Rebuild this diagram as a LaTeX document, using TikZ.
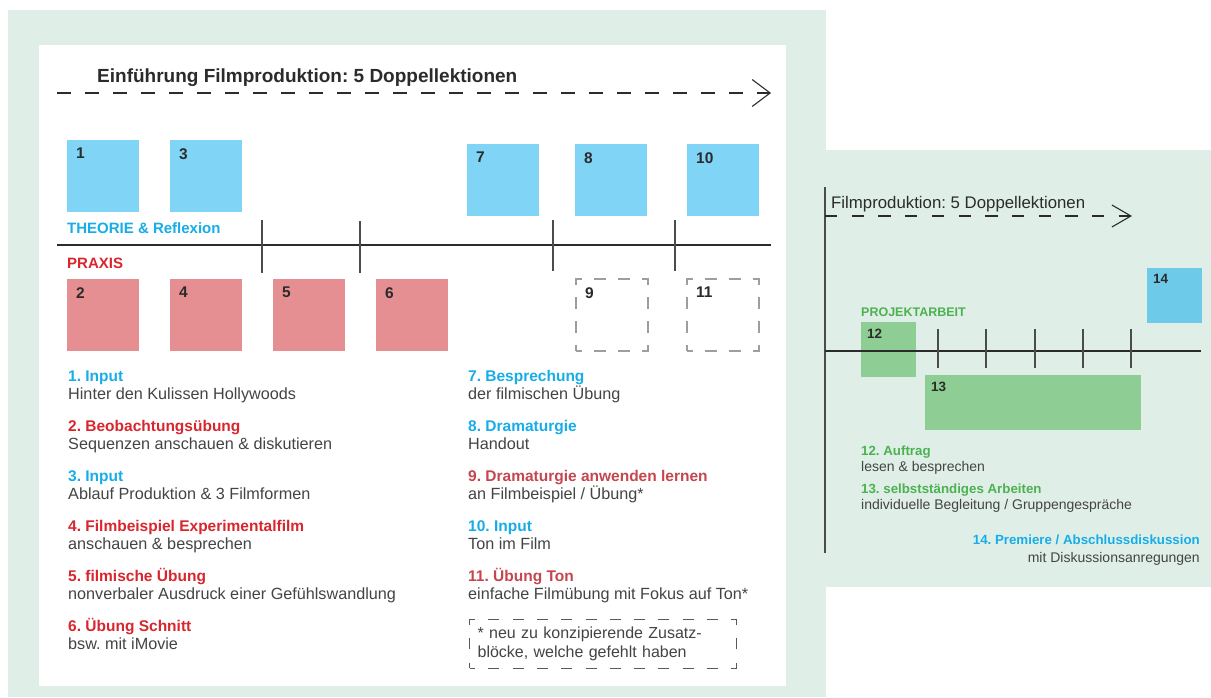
\documentclass[tikz,border=0pt]{standalone}
\usepackage{fontspec}
\setmainfont{Liberation Sans}
\usetikzlibrary{arrows.meta}
\frenchspacing
\definecolor{panel}{HTML}{DFEFE7}
\definecolor{theoblue}{HTML}{80D5F6}
\definecolor{premblue}{HTML}{6DCBE9}
\definecolor{praxred}{HTML}{E68F93}
\definecolor{projgreen}{HTML}{8ECE95}
\definecolor{txtblue}{HTML}{17ADE8}
\definecolor{txtred}{HTML}{D9262E}
\definecolor{txtrose}{HTML}{C4474F}
\definecolor{txtgreen}{HTML}{4DB151}
\definecolor{ink}{HTML}{2B2B2B}
\definecolor{subink}{HTML}{444444}

\tikzset{
    num/.style={font=\bfseries\fontsize{15.5}{16}\selectfont, text=ink, inner sep=0pt,
        anchor=north west, xshift=9pt, yshift=-8pt},
    snum/.style={font=\bfseries\fontsize{13.5}{14}\selectfont, text=ink, inner sep=0pt,
        anchor=north west, xshift=6pt, yshift=-6.5pt},
    block/.style={inner sep=0pt, outer sep=0pt, minimum size=72pt, anchor=north west},
    theo/.style={block, fill=theoblue},
    prax/.style={block, fill=praxred},
    extra/.style={block, draw=black!38, line width=2pt, dash pattern=on 12pt off 12pt, dash phase=6pt},
    proj/.style={inner sep=0pt, outer sep=0pt, minimum size=55pt, anchor=north west, fill=projgreen},
    head/.style={font=\bfseries\fontsize{15.5}{18}\selectfont, anchor=base west, inner sep=0pt},
    desc/.style={font=\fontsize{16.2}{19}\selectfont, text=subink, anchor=base west, inner sep=0pt},
    shead/.style={font=\bfseries\fontsize{13.3}{15}\selectfont, anchor=base west, inner sep=0pt},
    sdesc/.style={font=\fontsize{14}{16}\selectfont, text=subink, anchor=base west, inner sep=0pt},
    tick/.style={draw=black!70, line width=1.2pt},
    flow/.style={draw=ink, line width=1.1pt}
}

\begin{document}
\begin{tikzpicture}[x=1pt,y=-1pt]
    \useasboundingbox (0,0) rectangle (1211,697);
    \fill[white] (0,0) rectangle (1211,697);
    % panels
    \fill[panel] (8,10) rectangle (826,697);
    \fill[panel] (824,150) rectangle (1211,587);
    \fill[white] (39,45) rectangle (786,686);

    % Einfuehrung
    \node (title) at (97,82) [anchor=base west, inner sep=0pt, text=ink,
        font=\bfseries\fontsize{19}{21}\selectfont] {Einführung Filmproduktion: 5 Doppellektionen};
    \coordinate (a0) at (57,93);
    \coordinate (a1) at (771,93);
    \draw[flow, dash pattern=on 13.5pt off 14.5pt, -{Straight Barb[length=18pt,width=27pt]}] (a0) -- (a1);

    \node (s1) at (67,140) [theo, label={[num]north west:1}] {};
    \node (s3) at (170,140) [theo, label={[num]north west:3}] {};
    \node (s7) at (467,144) [theo, label={[num]north west:7}] {};
    \node (s8) at (575,144) [theo, label={[num]north west:8}] {};
    \node (s10) at (687,144) [theo, label={[num]north west:10}] {};

    \node (theorie) at (67,233) [head, font=\bfseries\fontsize{15}{18}\selectfont, text=txtblue] {THEORIE \& Reflexion};
    \node (praxis) at (67,268) [head, font=\bfseries\fontsize{15}{18}\selectfont, text=txtred] {PRAXIS};

    \coordinate (t0) at (57,245);
    \coordinate (t1) at (771,245);
    \draw[ink, line width=1.1pt] (t0) -- (t1);
    \draw[tick] (262,220) -- (262,273);
    \draw[tick] (360,221) -- (360,273);
    \draw[tick] (553,220) -- (553,271);
    \draw[tick] (675,220) -- (675,271);

    \node (s2) at (67,279) [prax, label={[num]north west:2}] {};
    \node (s4) at (170,279) [prax, label={[num]north west:4}] {};
    \node (s5) at (273,279) [prax, label={[num]north west:5}] {};
    \node (s6) at (376,279) [prax, label={[num]north west:6}] {};
    \node (s9) at (576,279) [extra, label={[num]north west:9}] {};
    \node (s11) at (687,279) [extra, label={[num]north west:11}] {};

    % Legende links
    \node (h1) at (68,381) [head, text=txtblue] {1. Input};
    \node (d1) at (68,399) [desc] {Hinter den Kulissen Hollywoods};
    \node (h2) at (68,431) [head, text=txtred] {2. Beobachtungsübung};
    \node (d2) at (68,449) [desc] {Sequenzen anschauen \& diskutieren};
    \node (h3) at (68,481) [head, text=txtblue] {3. Input};
    \node (d3) at (68,499) [desc] {Ablauf Produktion \& 3 Filmformen};
    \node (h4) at (68,531) [head, text=txtred] {4. Filmbeispiel Experimentalfilm};
    \node (d4) at (68,549) [desc] {anschauen \& besprechen};
    \node (h5) at (68,581) [head, text=txtred] {5. filmische Übung};
    \node (d5) at (68,599) [desc] {nonverbaler Ausdruck einer Gefühlswandlung};
    \node (h6) at (68,631) [head, text=txtred] {6. Übung Schnitt};
    \node (d6) at (68,649) [desc] {bsw. mit iMovie};

    \node (h7) at (468,381) [head, text=txtblue] {7. Besprechung};
    \node (d7) at (468,399) [desc] {der filmischen Übung};
    \node (h8) at (468,431) [head, text=txtblue] {8. Dramaturgie};
    \node (d8) at (468,449) [desc] {Handout};
    \node (h9) at (468,481) [head, text=txtrose] {9. Dramaturgie anwenden lernen};
    \node (d9) at (468,499) [desc] {an Filmbeispiel / Übung*};
    \node (h10) at (468,531) [head, text=txtblue] {10. Input};
    \node (d10) at (468,549) [desc] {Ton im Film};
    \node (h11) at (468,581) [head, text=txtrose] {11. Übung Ton};
    \node (d11) at (468,599) [desc] {einfache Filmübung mit Fokus auf Ton*};

    \node (note) at (469,619) [anchor=north west, draw=black!65, line width=1.3pt,
        dash pattern=on 11pt off 13.27pt, dash phase=5.5pt, minimum width=267pt, minimum height=48.5pt,
        inner xsep=8pt, inner ysep=0pt, text width=251pt, align=left, text=subink,
        font=\fontsize{16}{19}\selectfont] {* neu zu konzipierende Zusatz-\\blöcke, welche gefehlt haben};

    % Filmproduktion
    \coordinate (v0) at (825,187);
    \coordinate (v1) at (825,553);
    \draw[black!70, line width=1.5pt] (v0) -- (v1);
    \node (title2) at (831,208) [anchor=base west, inner sep=0pt, text=ink,
        font=\fontsize{16.8}{18}\selectfont] {Filmproduktion: 5 Doppellektionen};
    \coordinate (b0) at (825,216);
    \coordinate (b1) at (1132,216);
    \draw[flow, dash pattern=on 12.3pt off 14.4pt, -{Straight Barb[length=19pt,width=22pt]}] (b0) -- (b1);

    \node (s14) at (1147,268) [proj, fill=premblue, label={[snum]north west:14}] {};
    \node (projekt) at (861,316) [shead, font=\bfseries\fontsize{12.5}{15}\selectfont, text=txtgreen] {PROJEKTARBEIT};
    \node (s12) at (861,322) [proj, label={[snum]north west:12}] {};
    \node (s13) at (925,375) [proj, minimum width=216pt, label={[snum]north west:13}] {};

    \coordinate (p0) at (825,351);
    \coordinate (p1) at (1201,351);
    \draw[ink, line width=1.1pt] (p0) -- (p1);
    \draw[tick] (938,329) -- (938,368);
    \draw[tick] (986,329) -- (986,368);
    \draw[tick] (1035,329) -- (1035,368);
    \draw[tick] (1083,329) -- (1083,368);
    \draw[tick] (1131,329) -- (1131,368);

    \node (h12) at (861,455) [shead, text=txtgreen] {12. Auftrag};
    \node (d12) at (861,471) [sdesc] {lesen \& besprechen};
    \node (h13) at (861,493) [shead, text=txtgreen] {13. selbstständiges Arbeiten};
    \node (d13) at (861,509) [sdesc] {individuelle Begleitung / Gruppengespräche};
    \node (h14) at (1200,544) [shead, anchor=base east, text=txtblue] {14. Premiere / Abschlussdiskussion};
    \node (d14) at (1200,562) [sdesc, anchor=base east] {mit Diskussionsanregungen};
\end{tikzpicture}
\end{document}
